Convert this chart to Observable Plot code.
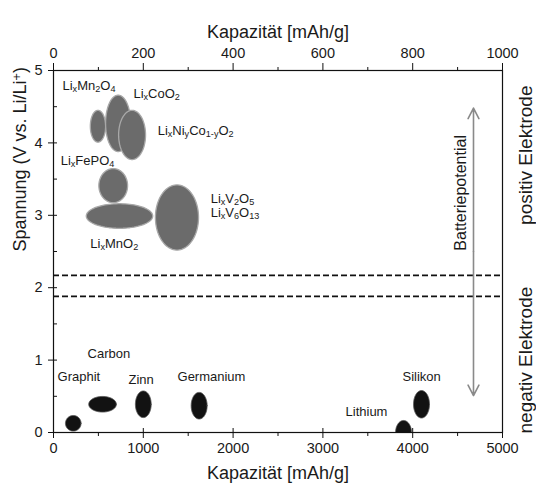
<!DOCTYPE html>
<html>
<head>
<meta charset="utf-8">
<script src="https://cdn.jsdelivr.net/npm/d3@7"></script>
<script src="https://cdn.jsdelivr.net/npm/@observablehq/plot@0.6"></script>
<style>
  html, body { margin: 0; padding: 0; background: #fff; }
</style>
</head>
<body>
<div id="chart"></div>
<script>
// ---------- data ----------
// positive electrode materials (capacity read on the TOP axis, 0–1000 mAh/g)
const posNames = ["LixMn2O4", "LixCoO2", "LixNiyCo1-yO2", "LixFePO4", "LixMnO2", "LixV2O5/LixV6O13"];
const posCap = [99, 144, 175, 133, 147, 275];
const posVolt = [4.23, 4.27, 4.11, 3.41, 2.99, 2.97];
const posCapSpread = [17, 28, 30, 32, 74, 48];
const posVoltSpread = [0.22, 0.39, 0.34, 0.235, 0.17, 0.45];

// negative electrode materials (capacity read on the BOTTOM axis, 0–5000 mAh/g)
const negNames = ["Graphit", "Carbon", "Zinn", "Germanium", "Lithium", "Silikon"];
const negCap = [220, 546, 1000, 1622, 3898, 4098];
const negVolt = [0.127, 0.39, 0.39, 0.37, 0, 0.39];
const negCapSpread = [87, 154, 88, 89, 89, 89];
const negVoltSpread = [0.108, 0.108, 0.184, 0.184, 0.166, 0.19];

// labels
const posLabels = ["Li_xMn_2O_4", "Li_xCoO_2", "Li_xNi_yCo_{1-y}O_2", "Li_xFePO_4", "Li_xV_2O_5", "Li_xV_6O_{13}", "Li_xMnO_2"];
const posLabelCap = [20, 178, 232, 16, 350, 350, 82];
const posLabelVolt = [4.79, 4.68, 4.16, 3.75, 3.23, 3.04, 2.61];
const negLabels = ["Graphit", "Carbon", "Zinn", "Germanium", "Lithium", "Silikon"];
const negLabelCap = [45, 379, 835, 1381, 3252, 3886];
const negLabelVolt = [0.77, 1.08, 0.73, 0.77, 0.28, 0.77];

// separators and battery potential arrow
const separatorVolts = [2.17, 1.88];
const arrowCap = [4677];
const arrowFrom = [4.48];
const arrowTo = [0.51];
const arrowMid = [2.5];
const arrowText = ["Batteriepotential"];
const arrowTextCap = [4532];
const arrowTextVolt = [3.31];

// side labels
const sideLabels = ["positiv Elektrode", "negativ Elektrode"];
const sideLabelCap = [5265, 5265];
const sideLabelVolt = [3.83, 1.0];

// axes
const topScaleFactor = 5; // bottom 0–5000 ↔ top 0–1000
const capDomain = [0, 5000];
const voltDomain = [0, 5];
const bottomTicks = [0, 1000, 2000, 3000, 4000, 5000];
const bottomMinor = [500, 1500, 2500, 3500, 4500];
const topTicks = [0, 200, 400, 600, 800, 1000];
const topMinor = [100, 300, 500, 700, 900];
const voltTicks = [0, 1, 2, 3, 4, 5];
const voltMinor = [0.5, 1.5, 2.5, 3.5, 4.5];
const xTitle = "Kapazität [mAh/g]";
const yTitle = "Spannung (V vs. Li/Li^+)";

// ---------- build ellipse outlines from centre + spread ----------
function ellipseRows(names, caps, volts, capSpread, voltSpread, capFactor) {
  const rows = [];
  const n = 90;
  names.forEach((name, i) => {
    for (let k = 0; k <= n; k++) {
      const t = (2 * Math.PI * k) / n;
      rows.push({
        name,
        cap: (caps[i] + capSpread[i] * Math.cos(t)) * capFactor,
        volt: Math.max(0, volts[i] + voltSpread[i] * Math.sin(t))
      });
    }
  });
  return rows;
}
const posRows = ellipseRows(posNames, posCap, posVolt, posCapSpread, posVoltSpread, topScaleFactor);
const negRows = ellipseRows(negNames, negCap, negVolt, negCapSpread, negVoltSpread, 1);

const posLabelRows = posLabels.map((t, i) => ({t, cap: posLabelCap[i] * topScaleFactor, volt: posLabelVolt[i]}));
const negLabelRows = negLabels.map((t, i) => ({t, cap: negLabelCap[i], volt: negLabelVolt[i]}));
const arrowRows = arrowCap.flatMap((c, i) => [
  {cap: c, from: arrowMid[i], to: arrowFrom[i]},
  {cap: c, from: arrowMid[i], to: arrowTo[i]}
]);
const arrowTextRows = arrowText.map((t, i) => ({t, cap: arrowTextCap[i], volt: arrowTextVolt[i]}));
const sideRows = sideLabels.map((t, i) => ({t, cap: sideLabelCap[i], volt: sideLabelVolt[i]}));

const ink = "#1a1a1a";
const fmt = d => String(d);

const chart = Plot.plot({
  width: 536,
  height: 488,
  marginLeft: 53,
  marginRight: 34,
  marginTop: 70,
  marginBottom: 56,
  style: {fontFamily: "'Liberation Sans', Arial, Helvetica, sans-serif", fontSize: "14.5px", color: ink, background: "#fff"},
  x: {domain: capDomain},
  y: {domain: voltDomain},
  marks: [
    // ellipses: positive electrodes
    Plot.line(posRows, {x: "cap", y: "volt", z: "name", curve: "linear-closed", fill: "#6b6b6b", stroke: "#a8a8a8", strokeWidth: 1.3}),
    // ellipses: negative electrodes
    Plot.line(negRows, {x: "cap", y: "volt", z: "name", curve: "linear-closed", fill: "#121212", stroke: "#555", strokeWidth: 0.8}),
    // separators
    Plot.ruleY(separatorVolts, {stroke: "#111", strokeWidth: 1.6, strokeDasharray: "6,3"}),
    // arrow (double-headed)
    Plot.arrow(arrowRows, {x1: "cap", x2: "cap", y1: "from", y2: "to", stroke: "#8a8a8a", strokeWidth: 1.6, headLength: 11, headAngle: 55}),
    Plot.text(arrowTextRows, {x: "cap", y: "volt", text: "t", rotate: -90, fontSize: 16, fill: ink}),
    // labels
    Plot.text(posLabelRows, {x: "cap", y: "volt", text: "t", textAnchor: "start", fontSize: 13, fill: ink}),
    Plot.text(negLabelRows, {x: "cap", y: "volt", text: "t", textAnchor: "start", fontSize: 13, fill: ink}),
    Plot.text(sideRows, {x: "cap", y: "volt", text: "t", rotate: -90, fontSize: 19, fill: ink}),
    // frame
    Plot.frame({stroke: "#111", strokeWidth: 1.2}),
    // axes: bottom
    Plot.axisX({anchor: "bottom", ticks: bottomTicks, tickSize: 10, dy: -4, tickPadding: 4, label: null, tickFormat: fmt, fontSize: 14.5, stroke: "#111"}),
    Plot.axisX({anchor: "bottom", ticks: bottomMinor, tickSize: 4, tickFormat: () => "", label: null, stroke: "#111"}),
    // axes: top (0–1000 scale)
    Plot.axisX({anchor: "top", ticks: topTicks.map(d => d * topScaleFactor), tickSize: 8, tickPadding: 5, label: null, tickFormat: d => String(d / topScaleFactor), fontSize: 14.5, stroke: "#111"}),
    Plot.axisX({anchor: "top", ticks: topMinor.map(d => d * topScaleFactor), tickSize: 4, tickFormat: () => "", label: null, stroke: "#111"}),
    // axes: left
    Plot.axisY({anchor: "left", ticks: voltTicks, tickSize: 9, dx: 4, tickPadding: 6, label: null, tickFormat: fmt, fontSize: 14.5, stroke: "#111"}),
    Plot.axisY({anchor: "left", ticks: voltMinor, tickSize: 4, dx: 4, tickFormat: () => "", label: null, stroke: "#111"}),
    // axis titles
    Plot.text([xTitle], {text: d => d, frameAnchor: "top", dy: -45, fontSize: 18, fill: ink}),
    Plot.text([xTitle], {text: d => d, frameAnchor: "bottom", dy: 46, fontSize: 18, fill: ink}),
    Plot.text([yTitle], {text: d => d, frameAnchor: "left", rotate: -90, dx: -33, fontSize: 18, fill: ink})
  ]
});

// turn _x / ^+ markup into real sub/superscript tspans
chart.querySelectorAll("text").forEach(el => {
  const s = el.textContent;
  if (!/[_^]/.test(s)) return;
  const re = /([_^])(\{[^}]*\}|.)/g;
  const parts = [];
  let last = 0, m;
  while ((m = re.exec(s))) {
    if (m.index > last) parts.push({t: s.slice(last, m.index), k: null});
    let v = m[2];
    if (v[0] === "{") v = v.slice(1, -1);
    parts.push({t: v, k: m[1]});
    last = re.lastIndex;
  }
  if (last < s.length) parts.push({t: s.slice(last), k: null});
  while (el.firstChild) el.removeChild(el.firstChild);
  parts.forEach(p => {
    const ts = document.createElementNS("http://www.w3.org/2000/svg", "tspan");
    ts.textContent = p.t;
    if (p.k) {
      ts.setAttribute("font-size", "70%");
      ts.setAttribute("baseline-shift", p.k === "_" ? "-22%" : "38%");
    }
    el.appendChild(ts);
  });
});

document.getElementById("chart").appendChild(chart);
</script>
</body>
</html>
